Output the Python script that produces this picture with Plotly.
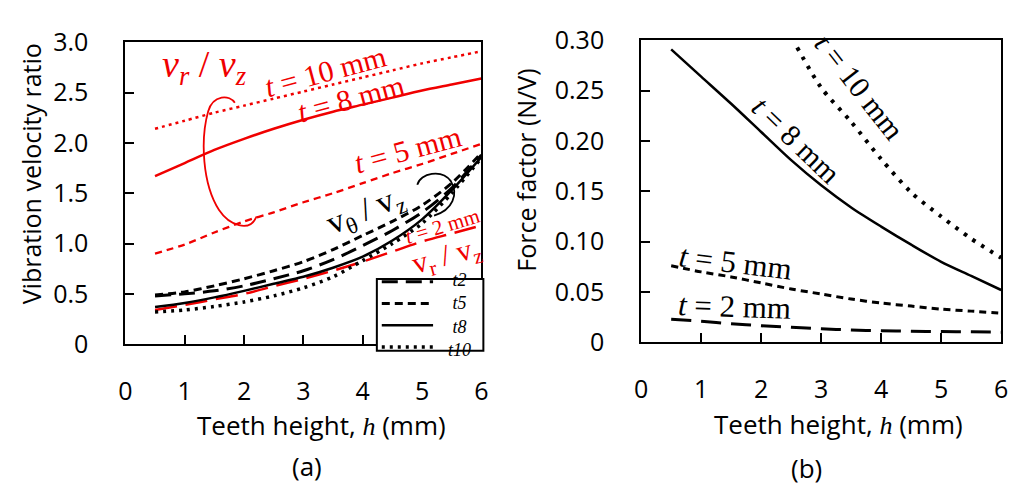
import plotly.graph_objects as go

# ---------------- data ----------------
h = [0.5, 1.0, 1.5, 2.0, 2.5, 3.0, 3.5, 4.0, 4.5, 5.0, 5.5, 6.0]

# (a) radial-to-axial velocity ratio v_r / v_z
vr_t2 = [0.34, 0.39, 0.445, 0.50, 0.575, 0.65, 0.73, 0.82, 0.92, 1.02, 1.10, 1.18]
vr_t5 = [0.90, 0.99, 1.11, 1.22, 1.31, 1.41, 1.50, 1.60, 1.70, 1.79, 1.89, 1.99]
vr_t8 = [1.67, 1.80, 1.93, 2.04, 2.14, 2.23, 2.31, 2.38, 2.45, 2.52, 2.58, 2.64]
vr_t10 = [2.14, 2.22, 2.30, 2.37, 2.44, 2.51, 2.58, 2.65, 2.72, 2.79, 2.85, 2.91]

# (a) circumferential-to-axial velocity ratio v_theta / v_z
vt_t2 = [0.48, 0.50, 0.53, 0.58, 0.65, 0.73, 0.84, 0.98, 1.13, 1.31, 1.55, 1.88]
vt_t5 = [0.49, 0.52, 0.58, 0.65, 0.73, 0.82, 0.94, 1.08, 1.22, 1.38, 1.60, 1.90]
vt_t8 = [0.37, 0.41, 0.465, 0.53, 0.60, 0.67, 0.76, 0.87, 1.03, 1.24, 1.53, 1.86]
vt_t10 = [0.32, 0.34, 0.375, 0.42, 0.48, 0.56, 0.67, 0.83, 1.00, 1.20, 1.50, 1.85]

# (b) force factor (N/V)
ff_t2 = [0.023, 0.021, 0.0185, 0.0165, 0.015, 0.0135, 0.0123, 0.0115, 0.011, 0.0107, 0.0104, 0.010]
ff_t5 = [0.076, 0.070, 0.065, 0.059, 0.053, 0.048, 0.043, 0.039, 0.036, 0.033, 0.031, 0.029]
ff_t8 = [0.291, 0.264, 0.237, 0.209, 0.181, 0.156, 0.134, 0.115, 0.097, 0.080, 0.066, 0.052]
h_t10 = [2.6, 3.0, 3.5, 4.0, 4.5, 5.0, 5.5, 6.0]
ff_t10 = [0.293, 0.253, 0.219, 0.182, 0.149, 0.125, 0.103, 0.084]

x_ticks = [0, 1, 2, 3, 4, 5, 6]
ya_ticks = [0, 0.5, 1.0, 1.5, 2.0, 2.5, 3.0]
ya_text = ["0", "0.5", "1.0", "1.5", "2.0", "2.5", "3.0"]
yb_ticks = [0, 0.05, 0.10, 0.15, 0.20, 0.25, 0.30]
yb_text = ["0", "0.05", "0.10", "0.15", "0.20", "0.25", "0.30"]

legend_names = ["t2", "t5", "t8", "t10"]

# ---------------- styling ----------------
W, H = 1020, 500
RED = "#f00000"
SANS = "Open Sans"
SERIF = "Liberation Serif"
DASH = {"t2": "16px,8px", "t5": "8px,5px", "t8": "solid", "t10": "3px,5px"}


def P(px, py):
    """pixel position -> paper coordinates"""
    return px / W, 1 - py / H


fig = go.Figure()


def add(x, y, color, dash, width, axis):
    xa, ya = axis
    fig.add_trace(go.Scatter(
        x=x, y=y, mode="lines", showlegend=False, hoverinfo="skip",
        line=dict(color=color, dash=dash, width=width, shape="spline", smoothing=0.8),
        xaxis=xa, yaxis=ya))


A = ("x", "y")
B = ("x2", "y2")

add(h, vr_t10, RED, "3px,4px", 2.5, A)
add(h, vr_t8, RED, "solid", 2.5, A)
add(h, vr_t5, RED, "7px,5px", 2.3, A)
add(h, vr_t2, RED, "22px,9px", 2.5, A)

add(h, vt_t10, "black", DASH["t10"], 3.5, A)
add(h, vt_t8, "black", DASH["t8"], 2.5, A)
add(h, vt_t2, "black", DASH["t2"], 3, A)
add(h, vt_t5, "black", DASH["t5"], 3, A)

add(h, ff_t8, "black", "solid", 2.5, B)
add(h_t10, ff_t10, "black", "3.5px,7px", 4, B)
add(h, ff_t5, "black", "7px,5px", 3, B)
add(h, ff_t2, "black", "20px,10px", 3, B)

axis_common = dict(
    showgrid=False, zeroline=False, showline=True, linecolor="black", linewidth=2,
    mirror=True, ticks="inside", ticklen=9, tickwidth=2, tickcolor="black",
    tickfont=dict(family=SANS, size=25, color="black"),
)

dxa = (120 / W, 481 / W)
dya = (1 - 350 / H, 1 - 26 / H)
dxb = (643 / W, 1008 / W)
dyb = (1 - 348 / H, 1 - 24 / H)

fig.update_layout(
    width=W, height=H, margin=dict(l=0, r=0, t=0, b=0),
    paper_bgcolor="white", plot_bgcolor="white", showlegend=False,
    xaxis=dict(domain=dxa, range=[0, 6], anchor="y", tickvals=x_ticks,
               ticklabelstandoff=24, **axis_common),
    yaxis=dict(domain=dya, range=[0, 3], anchor="x", tickvals=ya_ticks, ticktext=ya_text,
               ticklabelstandoff=30, **axis_common),
    xaxis2=dict(domain=dxb, range=[0, 6], anchor="y2", tickvals=x_ticks,
                ticklabelstandoff=24, **axis_common),
    yaxis2=dict(domain=dyb, range=[0, 0.30], anchor="x2", tickvals=yb_ticks, ticktext=yb_text,
                ticklabelstandoff=30, **axis_common),
)

annotations = []


def text(px, py, s, size, color="black", family=SERIF, angle=0, xanchor="center"):
    x, y = P(px, py)
    annotations.append(dict(
        x=x, y=y, xref="paper", yref="paper", text=s, showarrow=False,
        xanchor=xanchor, yanchor="middle", textangle=angle,
        font=dict(family=family, size=size, color=color)))


H_ITAL = "<span style='font-family:Liberation Serif'><i>h</i></span>"

# axis titles and panel labels
text(24, 167, "Vibration velocity ratio", 25, family=SANS, angle=-90)
text(319, 437, "Teeth height, " + H_ITAL + " (mm)", 26, family=SANS)
text(304, 481, "(a)", 26, family=SANS)
text(526, 163, "Force factor (N/V)", 25, family=SANS, angle=-90)
text(843, 436, "Teeth height, " + H_ITAL + " (mm)", 26, family=SANS)
text(811, 483, "(b)", 26, family=SANS)

# curve labels, panel (a)
text(200, 53, "<i>v</i><sub><i>r</i></sub> / <i>v</i><sub><i>z</i></sub>", 38, RED)
text(322, 57, "<i>t</i> = 10 mm", 30, RED, angle=-15)
text(348, 86, "<i>t</i> = 8 mm", 30, RED, angle=-15)
text(406, 141, "<i>t</i> = 5 mm", 30, RED, angle=-15)
text(364, 208, "v<sub>θ</sub> / v<sub>z</sub>", 33, "black", angle=-22)
text(442, 223, "<i>t</i> = 2 mm", 21, RED, angle=-17)
text(446, 256, "v<sub>r</sub> / v<sub>z</sub>", 30, RED, angle=-15)

# curve labels, panel (b)
text(864, 74, "<i>t</i> = 10 mm", 30, angle=52)
text(800, 130, "<i>t</i> = 8 mm", 30, angle=44)
text(739, 262, "<i>t</i> = 5 mm", 31, angle=7)
text(738, 310, "<i>t</i> = 2 mm", 31, angle=2)

shapes = []


def path_px(pts, color, width):
    d = ""
    for cmd, coords in pts:
        d += cmd + " " + " ".join("%.5f,%.5f" % P(px, py) for px, py in coords) + " "
    shapes.append(dict(type="path", xref="paper", yref="paper", path=d.strip(),
                       line=dict(color=color, width=width), layer="above"))


# bracket grouping the v_r / v_z curves
path_px([("M", [(231, 91)]),
         ("C", [(226, 82), (209, 82), (204, 100)]),
         ("C", [(196, 130), (198, 178), (215, 206)]),
         ("C", [(225, 222), (246, 231), (253, 213)])], RED, 1.8)
# bracket grouping the v_theta / v_z curves
path_px([("M", [(416, 179)]),
         ("C", [(419, 166), (441, 162), (450, 175)]),
         ("C", [(458, 189), (452, 206), (433, 212)])], "black", 1.8)

# legend box for panel (a)
x0, y0 = P(375, 280)
x1, y1 = P(483, 357)
shapes.append(dict(type="rect", xref="paper", yref="paper", x0=x0, y0=y1, x1=x1, y1=y0,
                   line=dict(color="black", width=2), fillcolor="white", layer="above"))
LEG_FONT = 18
row_step = LEG_FONT * 1.3
row_mid = 318
row_y = [row_mid + (i - 1.5) * row_step for i in range(len(legend_names))]
leg_w = {"t2": 3, "t5": 3, "t8": 2.5, "t10": 3.5}
for name, ry in zip(legend_names, row_y):
    lx0, ly = P(380, ry)
    lx1, _ = P(432, ry)
    shapes.append(dict(type="line", xref="paper", yref="paper", x0=lx0, y0=ly, x1=lx1, y1=ly,
                       line=dict(color="black", width=leg_w[name], dash=DASH[name]), layer="above"))
text(445, row_mid + 1, "<br>".join("<i>%s</i>" % n for n in legend_names), LEG_FONT,
     xanchor="left")

fig.update_layout(annotations=annotations, shapes=shapes)
fig.write_html("out.html")
